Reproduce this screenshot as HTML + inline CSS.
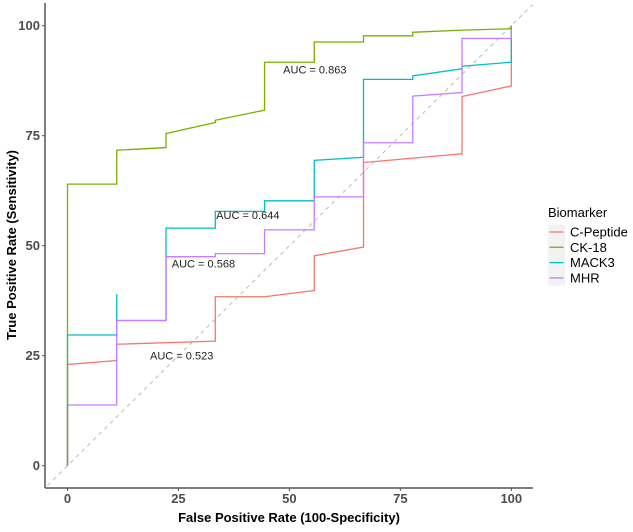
<!DOCTYPE html>
<html><head><meta charset="utf-8"><style>
body{margin:0;background:#fff}
svg{display:block;font-family:"Liberation Sans",sans-serif}
</style></head><body>
<svg id="chart" width="633" height="532">
<g id="plot"></g>
</svg>
<script>
const fprCK18=[0,0,11.1,11.1,22.2,22.2,33.3,33.3,44.4,44.4,55.6,55.6,66.7,66.7,77.8,77.8,88.9,100,100];
const tprCK18=[0,64,64,71.7,72.3,75.5,78,78.5,80.8,91.7,91.7,96.3,96.3,97.7,97.7,98.5,99,99.3,100];
const fprMACK3=[0,0,11.1,11.1,11.1,22.2,22.2,33.3,33.3,44.4,44.4,55.6,55.6,66.7,66.7,77.8,77.8,88.9,88.9,100,100];
const tprMACK3=[0,29.7,29.7,39,33,33,54,54,57.8,57.8,60.2,60.2,69.4,70.1,87.8,87.8,88.6,90.2,90.8,91.7,100];
const fprMHR=[0,0,11.1,11.1,22.2,22.2,33.3,33.3,44.4,44.4,55.6,55.6,66.7,66.7,77.8,77.8,88.9,88.9,100,100];
const tprMHR=[0,13.8,13.8,33,33,47.5,47.5,48.2,48.2,53.6,53.6,61.1,61.1,73.4,73.4,84,84.8,97.1,97.1,100];
const fprCP=[0,0,11.1,11.1,33.3,33.3,44.4,55.6,55.6,66.7,66.7,88.9,88.9,100,100];
const tprCP=[0,23,23.9,27.6,28.3,38.4,38.4,39.8,47.7,49.7,68.9,70.9,83.9,86.3,100];
const xTicks=[0,25,50,75,100];
const yTicks=[0,25,50,75,100];
const aucLabels=["AUC = 0.863","AUC = 0.644","AUC = 0.568","AUC = 0.523"];
const aucX=[48.6,33.5,23.5,18.6];
const aucY=[90,57,46,25];
const seriesNames=["C-Peptide","CK-18","MACK3","MHR"];

const NS="http://www.w3.org/2000/svg";
const g=document.getElementById('plot');
const X=v=>67.5+v*4.438;
const Y=v=>465.7-v*4.4;
function mk(tag,attrs,parent){const e=document.createElementNS(NS,tag);for(const k in attrs)e.setAttribute(k,attrs[k]);(parent||g).appendChild(e);return e;}

let d=mk('line',{x1:X(-4.5),y1:Y(-4.5),x2:X(104.8),y2:Y(104.8),stroke:'#bbb','stroke-width':1,'stroke-dasharray':'4,4'});



function series(fx,ty,color,name){
  const p=mk('polyline',{points:fx.map((v,i)=>X(v)+','+Y(ty[i])).join(' '),fill:'none',stroke:color,'stroke-width':1.3});
  
  
}
series(fprCP,tprCP,'#F8766D','roc-line-c-peptide');
series(fprMACK3,tprMACK3,'#00BFC4','roc-line-mack3');
series(fprMHR,tprMHR,'#C77CFF','roc-line-mhr');
series(fprCK18,tprCK18,'#7CAE00','roc-line-ck-18');

aucLabels.forEach((t,i)=>{
  const e=mk('text',{x:X(aucX[i]),y:Y(aucY[i])+4,'font-size':11,fill:'#222'});
  e.textContent=t;
  
  
});

let ax=mk('line',{x1:45,y1:3,x2:45,y2:488,stroke:'#555','stroke-width':1.5});


let bx=mk('line',{x1:45,y1:488,x2:533,y2:488,stroke:'#555','stroke-width':1.5});


xTicks.forEach(v=>{
  mk('line',{x1:X(v),y1:488,x2:X(v),y2:491,stroke:'#555','stroke-width':1});
  const t=mk('text',{x:X(v),y:503,'font-size':13,'font-weight':'bold',fill:'#4D4D4D','text-anchor':'middle'});
  t.textContent=v;
  
  
});
yTicks.forEach(v=>{
  mk('line',{x1:42,y1:Y(v),x2:45,y2:Y(v),stroke:'#555','stroke-width':1});
  const t=mk('text',{x:40,y:Y(v)+4.5,'font-size':13,'font-weight':'bold',fill:'#4D4D4D','text-anchor':'end'});
  t.textContent=v;
  
  
});
let xt=mk('text',{x:289,y:522,'font-size':13,'font-weight':'bold',fill:'#000','text-anchor':'middle'});
xt.textContent='False Positive Rate (100-Specificity)';


let yt=mk('text',{x:0,y:0,'font-size':13,'font-weight':'bold',fill:'#000','text-anchor':'middle',transform:'translate(16,245) rotate(-90)'});
yt.textContent='True Positive Rate (Sensitivity)';



const colors=['#F8766D','#7CAE00','#00BFC4','#C77CFF'];
let lg=mk('g',{});


let lt=mk('text',{x:548,y:217,'font-size':13,fill:'#000'},lg);
lt.textContent='Biomarker';


seriesNames.forEach((n,i)=>{
  const cy=232+i*15.3;
  mk('rect',{x:548,y:cy-7.5,width:17,height:15.3,fill:'#F2F2F2'},lg);
  mk('line',{x1:549.5,y1:cy,x2:563.5,y2:cy,stroke:colors[i],'stroke-width':1.3},lg);
  const t=mk('text',{x:570,y:cy+4.5,'font-size':13,fill:'#000'},lg);
  t.textContent=n;
  
  
});
</script>
</body></html>
